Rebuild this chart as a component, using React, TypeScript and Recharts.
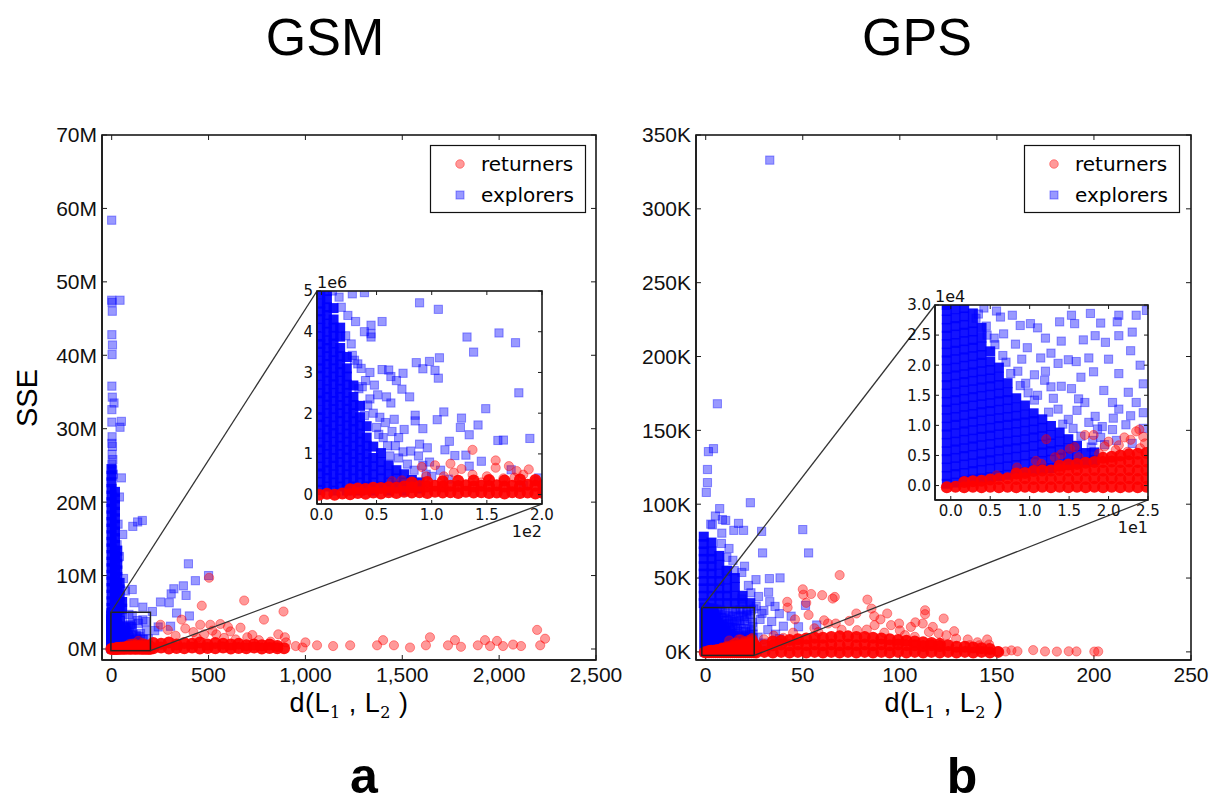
import React from 'react';
import { ScatterChart, Scatter, XAxis, YAxis } from 'recharts';

type Pt = [number, number];
type Col = [number, number[]];

// ================= Panel a: GSM (x = d(L1,L2), y = SSE in millions) =================
const gsmXTicks = [0, 500, 1000, 1500, 2000, 2500];
const gsmYTicks = [0, 10, 20, 30, 40, 50, 60, 70];
const gsmInsetXTicks = [0, 50, 100, 150, 200];
const gsmInsetYTicks = [0, 1, 2, 3, 4, 5];
const gsmXDomain: [number, number] = [-50, 2500];
const gsmYDomain: [number, number] = [-1.5, 70];
const gsmInsetXDomain: [number, number] = [-4, 200];
const gsmInsetYDomain: [number, number] = [-0.23, 5];

// dense (overlapping) explorers, given as columns [x, [y...]]
const gsmExplorersCore: Col[] = [
  [-1, [0.12, 0.31, 0.52, 0.69, 0.9, 1.11, 1.28, 1.5, 1.72, 1.9, 2.08, 2.31, 2.49, 2.7, 2.92, 3.1, 3.29, 3.51, 3.7, 3.88, 4.1, 4.31, 4.5, 4.69, 4.92, 5.6, 6.5, 7.4, 8.3, 9.2, 10.1, 11.0, 11.9, 12.8, 13.7, 14.6, 15.5, 16.4, 17.3, 18.2, 19.1, 20.0, 20.9, 21.8, 22.7, 23.6, 24.5]],
  [5, [0.2, 0.41, 0.6, 0.79, 1.0, 1.2, 1.41, 1.6, 1.79, 2.0, 2.21, 2.4, 2.59, 2.8, 3.0, 3.21, 3.4, 3.6, 3.79, 4.0, 4.2, 4.41, 4.6, 4.8, 5.0]],
  [11, [0.1, 0.3, 0.5, 0.71, 0.9, 1.1, 1.3, 1.51, 1.7, 1.9, 2.1, 2.3, 2.5, 2.71, 2.9, 3.1, 3.3, 3.5, 3.71, 3.9, 4.1, 4.3, 4.58]],
  [17, [0.2, 0.4, 0.61, 0.8, 1.0, 1.2, 1.4, 1.6, 1.81, 2.0, 2.2, 2.4, 2.6, 2.8, 3.01, 3.2, 3.4, 3.6, 3.88, 4.1, 5.2, 6.1, 7.0, 7.9, 8.8, 9.7, 10.6, 11.5, 12.4, 13.3, 14.2, 15.1, 16.0, 16.9, 17.8, 18.7, 19.6, 20.5, 21.4]],
  [23, [0.1, 0.3, 0.5, 0.7, 0.91, 1.1, 1.3, 1.5, 1.7, 1.9, 2.11, 2.3, 2.5, 2.7, 2.9, 3.1, 3.38]],
  [29, [0.2, 0.4, 0.6, 0.8, 1.0, 1.2, 1.4, 1.61, 1.8, 2.0, 2.2, 2.4, 2.68, 5.3, 6.2, 7.1, 8.0, 8.9, 9.8, 10.7, 11.6, 12.5, 13.4]],
  [35, [0.1, 0.3, 0.5, 0.7, 0.9, 1.1, 1.3, 1.5, 1.7, 1.9, 2.18]],
  [41, [0.2, 0.4, 0.6, 0.8, 1.0, 1.2, 1.4, 1.68, 5.4, 6.3, 7.2, 8.1, 9.0]],
  [47, [0.1, 0.3, 0.5, 0.7, 0.9, 1.18]],
  [54, [0.2, 0.4, 0.6, 0.8, 1.02, 5.5, 6.4]],
  [61, [0.1, 0.3, 0.5, 0.72]],
  [68, [0.2, 0.4, 0.6]],
  [75, [0.1, 0.3, 0.5]],
  [82, [0.2, 0.36]],
  [89, [0.15, 0.3]],
];

const gsmExplorersSparse: Pt[] = [
  [0, 58.4], [0, 47.5], [2, 47.2], [43, 47.5], [3, 46], [1, 42.8], [4, 41.4], [2, 40.1], [1, 35.8], [3, 34.3], [12, 33.5], [1, 32.6],
  [1, 30.9], [50, 31], [43, 30.2], [2, 28.9], [1, 28], [4, 27.6], [2, 26.5], [6, 25.8], [1, 25.2], [5, 24.4], [8, 23.8], [50, 23.3],
  [40, 20.7], [33, 17], [109, 16.7], [134, 17.3], [158, 17.5], [57, 15.6], [28, 14.2], [40, 12.6], [61, 9.6], [71, 7.9], [106, 8.1],
  [115, 6.3], [161, 5.7], [210, 5.1], [252, 6.4], [297, 6.3], [307, 7.5], [321, 8.2], [370, 8.6], [384, 7.3], [396, 11.6], [432, 9.3],
  [500, 10], [335, 4.9], [401, 4.5], [304, 3.1], [240, 3.0], [222, 2.5],
  [89, 4.71], [106, 4.55], [28, 4.93], [39, 4.96], [31, 4.25], [45, 4.16], [55, 4.25], [39, 4.0], [45, 3.95], [45, 3.87], [161, 3.97],
  [132, 3.87], [176, 3.73], [138, 3.5], [28, 3.42], [33, 3.21], [44, 3.0], [55, 3.07], [61, 3.06], [63, 2.9], [74, 2.98], [86, 3.24],
  [92, 3.09], [98, 3.27], [103, 3.05], [107, 3.36], [106, 2.86], [37, 2.65], [48, 2.69], [51, 2.45], [73, 2.59], [44, 2.35], [63, 2.25],
  [179, 2.5], [149, 2.11], [111, 2.03], [105, 1.84], [85, 1.95], [85, 1.81], [92, 1.62], [39, 1.94], [50, 1.65], [52, 1.48], [58, 1.77],
  [64, 1.55], [127, 1.88], [126, 1.65], [142, 1.71], [134, 1.47], [116, 1.31], [160, 1.33], [165, 1.34], [189, 1.38], [89, 1.24],
  [67, 1.2], [81, 1.07], [88, 0.95], [121, 0.96], [131, 0.97], [145, 0.82], [134, 0.7], [172, 0.61], [183, 0.23], [197, 0.41],
  [18, 4.6], [24, 4.4], [22, 3.9], [27, 3.7], [30, 3.3], [36, 3.1], [40, 2.8], [34, 2.6], [42, 2.2], [47, 2.0], [53, 1.9], [56, 1.4],
  [60, 1.2], [70, 0.9], [74, 1.05], [62, 0.95], [78, 0.75], [84, 0.6], [95, 0.5], [92, 0.72], [100, 0.45], [108, 0.6], [115, 0.38],
  [98, 0.8], [112, 1.1], [96, 1.15], [70, 1.4], [75, 1.6], [66, 1.85], [59, 2.4], [68, 2.8], [80, 2.4], [10, 5.0], [16, 4.85],
];

const gsmReturnersCore: Col[] = [
  [-2, [0.0]], [5, [0.02]], [12, [0.0]], [19, [0.03]], [26, [0.01, 0.13]], [33, [0.04, 0.15]], [40, [0.02, 0.14]], [47, [0.05, 0.17]],
  [54, [0.03, 0.16]], [61, [0.06, 0.18]], [68, [0.04, 0.17]], [75, [0.07, 0.2]], [82, [0.05, 0.18, 0.3]], [89, [0.06, 0.21]],
  [96, [0.04, 0.2, 0.31]], [103, [0.07, 0.22]], [110, [0.05, 0.2, 0.33]], [117, [0.06, 0.22]], [124, [0.04, 0.21, 0.34]],
  [131, [0.07, 0.23]], [138, [0.05, 0.2, 0.35]], [145, [0.06, 0.22]], [152, [0.04, 0.21, 0.36]], [159, [0.05, 0.23]],
  [166, [0.03, 0.2, 0.35]], [173, [0.06, 0.22]], [180, [0.04, 0.21, 0.37]], [187, [0.05, 0.24]], [194, [0.03, 0.22, 0.36]], [201, [0.04, 0.23]],
  [215, [0.1, 0.8]], [255, [0.2, 0.7]], [295, [0.05, 0.9]], [335, [0.15, 0.6]], [375, [0.1, 0.8]], [415, [0.2, 0.7]], [455, [0.05, 0.9]],
  [495, [0.15, 0.6]], [535, [0.1, 0.8]], [575, [0.2, 0.7]], [615, [0.05, 0.6]], [655, [0.15, 0.7]], [695, [0.1, 0.5]], [735, [0.2, 0.6]],
  [775, [0.05, 0.5]], [815, [0.15, 0.6]], [855, [0.1, 0.4]], [890, [0.1]],
];

const gsmReturnersSparse: Pt[] = [
  [137, 1.1], [158, 0.84], [158, 0.66], [117, 0.76], [91, 0.68], [103, 0.72], [127, 0.63], [137, 0.49], [170, 0.7], [177, 0.58],
  [183, 0.49], [111, 0.45], [120, 0.54], [194, 0.33], [73, 0.35], [64, 0.33], [150, 0.45], [165, 0.4], [188, 0.62], [95, 0.45],
  [145, 0.3], [175, 0.42],
  [503, 9.7], [465, 5.9], [684, 6.6], [887, 5.1], [786, 4.0], [457, 3.3], [509, 3.3], [561, 3.4], [252, 3.3], [361, 4.0], [613, 2.4],
  [665, 2.9], [726, 1.9], [894, 1.6], [477, 2.0], [422, 2.3], [330, 1.8], [290, 2.6], [380, 2.8], [540, 2.0], [580, 1.5], [640, 1.3],
  [700, 1.6], [760, 1.2], [820, 1.0], [860, 2.0], [900, 0.9], [600, 3.0], [520, 2.5], [440, 1.5],
  [950, 0.4], [985, 0.2], [1000, 0.9], [1060, 0.5], [1143, 0.4], [1231, 0.5], [1370, 0.5], [1401, 1.2], [1457, 0.5], [1540, 0.2],
  [1622, 0.5], [1643, 1.6], [1736, 0.5], [1772, 1.2], [1803, 0.3], [1890, 0.5], [1927, 1.2], [1953, 0.4], [1989, 1.1], [2020, 0.4],
  [2072, 0.6], [2113, 0.4], [2196, 2.6], [2212, 0.5], [2237, 1.4],
];

// ================= Panel b: GPS (x = d(L1,L2), y = SSE in thousands) =================
const gpsXTicks = [0, 50, 100, 150, 200, 250];
const gpsYTicks = [0, 50, 100, 150, 200, 250, 300, 350];
const gpsInsetXTicks = [0, 5, 10, 15, 20, 25];
const gpsInsetYTicks = [0, 5, 10, 15, 20, 25, 30];
const gpsXDomain: [number, number] = [-5, 250];
const gpsYDomain: [number, number] = [-5.5, 350];
const gpsInsetXDomain: [number, number] = [-2, 25];
const gpsInsetYDomain: [number, number] = [-2.4, 30];

const gpsExplorersCore: Col[] = [
  [-0.5, [0.3, 1.6, 3.0, 4.4, 5.7, 7.1, 8.5, 9.8, 11.2, 12.6, 13.9, 15.3, 16.7, 18.0, 19.4, 20.8, 22.1, 23.5, 24.9, 26.2, 27.6, 29.0, 30.0]],
  [0.6, [0.5, 1.9, 3.2, 4.6, 6.0, 7.3, 8.7, 10.1, 11.4, 12.8, 14.2, 15.5, 16.9, 18.3, 19.6, 21.0, 22.4, 23.7, 25.1, 26.5, 27.8, 29.3]],
  [1.7, [0.8, 2.1, 3.5, 4.9, 6.2, 7.6, 9.0, 10.3, 11.7, 13.1, 14.4, 15.8, 17.2, 18.5, 19.9, 21.3, 22.6, 24.0, 25.4, 26.7, 28.1, 29.5]],
  [2.8, [1.0, 2.4, 3.7, 5.1, 6.5, 7.8, 9.2, 10.6, 11.9, 13.3, 14.7, 16.0, 17.4, 18.8, 20.1, 21.5, 22.9, 24.2, 25.6, 27.0, 28.6]],
  [3.9, [1.2, 2.6, 4.0, 5.3, 6.7, 8.1, 9.4, 10.8, 12.2, 13.5, 14.9, 16.3, 17.6, 19.0, 20.4, 21.7, 23.1, 24.6, 26.2]],
  [5.0, [1.4, 2.8, 4.2, 5.5, 6.9, 8.3, 9.6, 11.0, 12.4, 13.7, 15.1, 16.5, 17.8, 19.2, 20.6, 22.3]],
  [6.1, [1.6, 3.0, 4.4, 5.8, 7.1, 8.5, 9.9, 11.2, 12.6, 14.0, 15.3, 16.7, 18.1, 19.6]],
  [7.2, [1.8, 3.2, 4.6, 6.0, 7.3, 8.7, 10.1, 11.4, 12.8, 14.2, 15.5, 17.0]],
  [8.3, [2.0, 3.4, 4.8, 6.2, 7.5, 8.9, 10.3, 11.6, 13.0, 14.5]],
  [9.4, [2.2, 3.6, 5.0, 6.4, 7.7, 9.1, 10.5, 11.8, 13.3]],
  [10.5, [2.5, 3.9, 5.2, 6.6, 8.0, 9.3, 10.7, 12.0]],
  [11.6, [2.7, 4.1, 5.5, 6.8, 8.2, 9.6, 11.0]],
  [12.7, [2.9, 4.3, 5.7, 7.0, 8.4, 9.9]],
  [13.8, [3.2, 4.6, 5.9, 7.3, 8.8]],
  [14.9, [3.4, 4.8, 6.2, 7.7]],
  [16.0, [3.7, 5.1, 6.6]],
  [17.1, [3.9, 5.4]],
  [18.2, [4.2, 5.5]],
  [-1, [33, 38, 43, 48, 53, 58, 63, 68, 73, 78]],
  [3, [33, 38, 43, 48, 53, 58, 63, 68, 74]],
  [7, [33, 38, 43, 48, 53, 59, 65]],
  [11, [33, 38, 43, 49, 55]],
  [15, [33, 38, 44, 50]],
  [19, [33, 38]],
  [23, [33]],
];

const gpsExplorersSparse: Pt[] = [
  [33, 333], [6, 168], [1.4, 135.6], [4, 137.6], [0.9, 123.5], [0.9, 114.6], [0.3, 108], [7.2, 97], [23, 101], [8.6, 89.6], [10.3, 89],
  [2.6, 86.5], [3.4, 86], [8.3, 80.4], [14.5, 82.3], [16.9, 87], [19.5, 82.3], [28.8, 81.6], [29.3, 67], [50, 82.8], [53, 67], [8.1, 73.4],
  [10.9, 64], [10.3, 55], [14.7, 55], [18.6, 53.8], [25.9, 48.9], [32.8, 49.6], [38.3, 50.1], [23.3, 40], [27.2, 37.5], [32.4, 40.4],
  [18.6, 35.8], [35.7, 30.8], [37.9, 25.9], [44, 24.2], [51.4, 31.5], [40, 17.4], [47.8, 17], [57.2, 18.2], [34, 20.6], [30, 28], [28, 22],
  [32, 15], [36, 12], [27, 10], [30, 6], [38, 9], [26, 31], [29, 26], [33, 34], [12, 70], [5, 92], [14, 62], [22, 45], [20, 58],
  [5.8, 29], [6.3, 28], [7.8, 28.3], [8.8, 26.6], [10.1, 26.9], [11, 26.2], [13.8, 27.2], [15.3, 28.3], [15.7, 26.9], [17.7, 28.6],
  [21.1, 27.2], [21.3, 28.3], [23.5, 28.3], [24.8, 29.1], [18.3, 24.9], [19.6, 23.8], [21.3, 24.9], [22.8, 22.4], [6.7, 25.2], [8.2, 23.5],
  [9.7, 22.9], [11.4, 21.2], [12.7, 22], [13.6, 20.3], [14.9, 20.9], [15.9, 20.6], [17.5, 21.2], [18.1, 18.9], [19.4, 15.8], [21.3, 18.6],
  [24.4, 16.9], [10.6, 18.4], [11.9, 17.5], [12.7, 16.4], [15.3, 16.1], [16.2, 14.4], [17, 13.8], [20.5, 13.8], [21.3, 12.7], [23.5, 13.8],
  [24.4, 12.1], [13.6, 12.7], [14.9, 11], [18.3, 11.5], [19.2, 9.8], [20.5, 9.3], [22.2, 10.1], [24.4, 9.5], [9.5, 17], [11, 15], [13, 14.5],
  [14, 16.5], [16, 12.5], [17.5, 10.5], [15.5, 9.5], [19, 8], [21, 7.5], [23, 7], [18, 7.5], [7, 20.5], [8.5, 19], [4.5, 26.5], [5.5, 24.5],
  [3.5, 28.5], [4.2, 29.5], [12, 19], [16.5, 18], [20, 21], [22.5, 15.5], [24, 20], [23, 25.5], [19, 27], [14, 24], [9, 21], [12, 24.5], [16.8, 24.2],
  [19.5, 6.8], [17.8, 6.4], [16.5, 8.2], [14.2, 10.2], [12.4, 12.2], [10.6, 14.2], [9.8, 15.4], [8.8, 16.6], [7.6, 18.6], [6.6, 21.6],
  [5.6, 23.4], [4.6, 25.0], [3.2, 27.8], [20.6, 11.2], [22.8, 11.6], [18.6, 9.4],
];

const gpsReturnersCore: Col[] = [
  [-0.5, [-0.3]], [0.6, [-0.2]], [1.7, [-0.3, 0.6]], [2.8, [-0.2, 0.7]], [3.9, [-0.3, 0.8]], [5.0, [-0.2, 1.0]], [6.1, [-0.3, 1.1]],
  [7.2, [-0.2, 1.2]], [8.3, [-0.3, 1.1, 2.0]], [9.4, [-0.2, 1.2, 2.1]], [10.5, [-0.3, 1.1, 2.4]], [11.6, [-0.2, 1.2, 2.5]],
  [12.7, [-0.3, 1.1, 2.5]], [13.8, [-0.2, 1.2, 2.6, 3.3]], [14.9, [-0.3, 1.1, 2.5, 3.5]], [16.0, [-0.2, 1.2, 2.6, 3.6]],
  [17.1, [-0.3, 1.1, 2.5, 3.8]], [18.2, [-0.2, 1.2, 2.6, 3.9]], [19.3, [-0.3, 1.1, 2.5, 3.9, 4.6]], [20.4, [-0.2, 1.2, 2.6, 4.0, 4.8]],
  [21.5, [-0.3, 1.1, 2.5, 3.9, 5.0]], [22.6, [-0.2, 1.2, 2.6, 4.0, 5.2]], [23.7, [-0.3, 1.1, 2.5, 3.9, 5.3]], [24.8, [-0.2, 1.2, 2.6, 4.0, 5.4]],
  [26, [-0.5, 3.5]], [30.3, [0, 4.5]], [34.6, [-0.5, 4.5, 7]], [38.9, [0, 5, 7.5]], [43.2, [-0.5, 4.5, 8]], [47.5, [0, 5, 8.5]],
  [51.8, [-0.5, 4.5, 9]], [56.1, [0, 5, 9.5]], [60.4, [-0.5, 4.5, 9.5]], [64.7, [0, 5, 10]], [69, [-0.5, 4.5, 10.5]], [73.3, [0, 5, 10.5]],
  [77.6, [-0.5, 4.5, 10]], [81.9, [0, 5, 10]], [86.2, [-0.5, 4.5, 9.5]], [90.5, [0, 5, 9]], [94.8, [-0.5, 4.5, 8.5]], [99.1, [0, 5, 8]],
  [103.4, [-0.5, 4.5, 7.5]], [107.7, [0, 4.5, 7]], [112, [-0.5, 4, 6.5]], [116.3, [0, 4.5, 6]], [120.6, [-0.5, 4, 5.5]], [124.9, [0, 4.5]],
  [129.2, [-0.5, 3.5]], [133.5, [0, 3.5]], [137.8, [-0.5, 3]], [142.1, [0, 2.5]], [146.4, [-0.5, 2]], [150.7, [0]],
];

const gpsReturnersSparse: Pt[] = [
  [12.1, 7.7], [13.2, 4.7], [15.1, 6.1], [15.7, 6.4], [17, 8.4], [18.1, 8.4], [20, 7.3], [20.9, 5.9], [21.3, 6.7], [22.8, 7.6], [23.5, 9],
  [23.9, 9.3], [24.4, 8.1], [24.6, 7], [10.8, 4.1], [8.4, 3], [5.8, 1.7], [16.2, 4.7], [18.8, 5.3], [22.4, 5.6], [19.5, 6.5], [24, 6.2],
  [14, 5.2], [11.5, 3.6],
  [69, 52], [50, 42.4], [50.3, 38.7], [54.3, 39.2], [60, 38.4], [66.5, 37.2], [65.4, 36.1], [42, 33.9], [51.8, 33.2], [83.3, 35.4],
  [85.4, 29.3], [86.8, 24.2], [93.5, 26], [77.6, 26], [113, 28.2], [113, 25.5], [122.6, 22.6], [61, 21.4], [63, 19.2], [67, 19.2],
  [78, 14.7], [83, 15.1], [87, 18.1], [95.5, 18.1], [99.6, 19.2], [105.7, 16.9], [111.8, 19.2], [115, 13.5], [117, 16.9], [102.6, 11.3],
  [107.7, 10.2], [124, 11.3], [129, 9], [135, 8.4], [145, 8.4], [136, 4.5], [141, 4.5], [146, 5], [42.2, 30], [53, 25], [46, 22],
  [56, 16], [70, 15], [74, 21], [92, 13], [120, 12.5], [128, 14], [140, 6.5], [35, 11], [40, 9.5], [30, 8.5], [22, 8], [45, 13],
  [58, 13.5], [100, 14.5], [108, 20], [90, 22],
  [150.4, 0.5], [154.5, 0.3], [157.5, 1], [160.6, 0.4], [168.7, 1.2], [174.8, 0.3], [180.9, 0.2], [187, 0.4], [191, 0.3], [200.2, 0.2], [202.2, 0.3],
];

// ================= helpers =================
const fromCols = (cols: Col[]) => cols.flatMap(([x, ys]) => ys.map((y) => ({ x, y })));
const fromPts = (pts: Pt[]) => pts.map(([x, y]) => ({ x, y }));

const RED = '#ff0000';
const BLUE = '#0000ff';

const redCore = (p: any) => <circle cx={p.cx} cy={p.cy} r={6} fill={RED} fillOpacity={0.92} />;
const redSparse = (p: any) => (
  <circle cx={p.cx} cy={p.cy} r={4.6} fill={RED} fillOpacity={0.4} stroke={RED} strokeOpacity={0.4} strokeWidth={1} />
);
const blueCore = (p: any) => <rect x={p.cx - 5} y={p.cy - 5} width={10} height={10} fill={BLUE} fillOpacity={0.92} />;
const blueSparse = (p: any) => (
  <rect x={p.cx - 4.1} y={p.cy - 4.1} width={8.2} height={8.2} fill={BLUE} fillOpacity={0.4} stroke={BLUE} strokeOpacity={0.4} strokeWidth={1} />
);

type Series = { name: string; data: { x: number; y: number }[]; shape: any };

const gsmSeries: Series[] = [
  { name: 'explorers', data: fromCols(gsmExplorersCore), shape: blueCore },
  { name: 'explorers', data: fromPts(gsmExplorersSparse), shape: blueSparse },
  { name: 'returners', data: fromCols(gsmReturnersCore), shape: redCore },
  { name: 'returners', data: fromPts(gsmReturnersSparse), shape: redSparse },
];
const gpsSeries: Series[] = [
  { name: 'explorers', data: fromCols(gpsExplorersCore), shape: blueCore },
  { name: 'explorers', data: fromPts(gpsExplorersSparse), shape: blueSparse },
  { name: 'returners', data: fromCols(gpsReturnersCore), shape: redCore },
  { name: 'returners', data: fromPts(gpsReturnersSparse), shape: redSparse },
];

// ================= layout =================
type Box = { left: number; top: number; w: number; h: number };
const A: Box = { left: 102, top: 135, w: 494, h: 525 };
const AI: Box = { left: 317, top: 291, w: 225, h: 213 };
const B: Box = { left: 696, top: 135, w: 495, h: 525 };
const BI: Box = { left: 935, top: 305, w: 213, h: 195 };

const ARIAL = '"Liberation Sans", Arial, Helvetica, sans-serif';
const DEJAVU = '"DejaVu Sans", sans-serif';
const FRAME = '#1a1a1a';

type PlotProps = {
  box: Box;
  xd: [number, number]; yd: [number, number];
  xt: number[]; yt: number[];
  xf: (v: number) => string; yf: (v: number) => string;
  fs: number; ff: string; ts: number; xtm: number; ytm: number;
  series: Series[]; bg?: boolean;
};

function Plot(p: PlotProps) {
  const YW = 90, XH = 40, MT = 14, MR = 30;
  const axisLine = { stroke: FRAME, strokeWidth: 1.6 };
  const tickLine = { stroke: FRAME, strokeWidth: 1 };
  const tickStyle = { fill: '#111', fontSize: p.fs, fontFamily: p.ff };
  const { left, top, w, h } = p.box;
  return (
    <>
      {p.bg && <div style={{ position: 'absolute', left, top, width: w, height: h, background: '#fff' }} />}
      <div style={{ position: 'absolute', left: left - YW, top: top - MT }}>
        <ScatterChart width={YW + w + MR} height={MT + h + XH} margin={{ top: MT, right: MR, bottom: 0, left: 0 }}>
          <XAxis xAxisId="b" type="number" dataKey="x" domain={p.xd} ticks={p.xt} allowDataOverflow interval={0}
            height={XH} tickSize={-p.ts} tickMargin={p.xtm} tickFormatter={p.xf} tick={tickStyle}
            axisLine={axisLine} tickLine={tickLine} />
          <YAxis yAxisId="l" type="number" dataKey="y" domain={p.yd} ticks={p.yt} allowDataOverflow interval={0}
            width={YW} tickSize={-p.ts} tickMargin={p.ytm} tickFormatter={p.yf} tick={tickStyle}
            axisLine={axisLine} tickLine={tickLine} />
          {p.series.map((s, i) => (
            <Scatter key={i} name={s.name} xAxisId="b" yAxisId="l" data={s.data} shape={s.shape} isAnimationActive={false} />
          ))}
        </ScatterChart>
      </div>
    </>
  );
}

const sx = (v: number, d: [number, number], b: Box) => b.left + ((v - d[0]) / (d[1] - d[0])) * b.w;
const sy = (v: number, d: [number, number], b: Box) => b.top + b.h - ((v - d[0]) / (d[1] - d[0])) * b.h;

// box outline plus inward ticks on the top and right edges (matplotlib style frame)
function Frame({ box, xd, yd, xt, yt, ts }: { box: Box; xd: [number, number]; yd: [number, number]; xt: number[]; yt: number[]; ts: number }) {
  const r = box.left + box.w;
  return (
    <g>
      <rect x={box.left} y={box.top} width={box.w} height={box.h} fill="none" stroke={FRAME} strokeWidth={1.6} />
      {xt.map((t) => {
        const x = sx(t, xd, box);
        return <line key={'x' + t} x1={x} x2={x} y1={box.top} y2={box.top + ts} stroke={FRAME} strokeWidth={1} />;
      })}
      {yt.map((t) => {
        const y = sy(t, yd, box);
        return <line key={'y' + t} x1={r} x2={r - ts} y1={y} y2={y} stroke={FRAME} strokeWidth={1} />;
      })}
    </g>
  );
}

function ZoomMarks({ main, inset, xd, yd, ixd, iyd }: { main: Box; inset: Box; xd: [number, number]; yd: [number, number]; ixd: [number, number]; iyd: [number, number] }) {
  const x0 = sx(ixd[0], xd, main), x1 = sx(ixd[1], xd, main);
  const y1 = sy(iyd[1], yd, main), y0 = sy(iyd[0], yd, main);
  return (
    <g>
      <rect x={x0} y={y1} width={x1 - x0} height={y0 - y1} fill="none" stroke="#222" strokeWidth={1.5} />
      <line x1={x0} y1={y1} x2={inset.left} y2={inset.top} stroke="#333" strokeWidth={1.3} />
      <line x1={x1} y1={y0} x2={inset.left + inset.w} y2={inset.top + inset.h} stroke="#333" strokeWidth={1.3} />
    </g>
  );
}

function LegendBox({ x, y }: { x: number; y: number }) {
  return (
    <g>
      <rect x={x + 0.5} y={y + 0.5} width={155} height={67} fill="#fff" stroke="#111" strokeWidth={1.2} />
      <circle cx={x + 30} cy={y + 19} r={4.3} fill={RED} fillOpacity={0.4} stroke={RED} strokeOpacity={0.4} />
      <text x={x + 51} y={y + 26} fontFamily={DEJAVU} fontSize={20} fill="#000">returners</text>
      <rect x={x + 26} y={y + 46} width={8} height={8} fill={BLUE} fillOpacity={0.4} stroke={BLUE} strokeOpacity={0.4} />
      <text x={x + 51} y={y + 57} fontFamily={DEJAVU} fontSize={20} fill="#000">explorers</text>
    </g>
  );
}

function XLabel({ cx, y }: { cx: number; y: number }) {
  return (
    <text x={cx} y={y} textAnchor="middle" fontFamily={ARIAL} fontSize={27} fill="#000" letterSpacing={0.5}>
      d(L<tspan fontFamily='"DejaVu Serif", serif' fontSize={16} dy={6}>1</tspan>
      <tspan dy={-6}> , L</tspan>
      <tspan fontFamily='"DejaVu Serif", serif' fontSize={16} dy={6}>2</tspan>
      <tspan dy={-6}> )</tspan>
    </text>
  );
}

const fmtComma = (v: number) => v.toLocaleString('en-US');

export default function App() {
  return (
    <div style={{ position: 'absolute', left: 0, top: 0, width: 1219, height: 805, background: '#fff', overflow: 'hidden' }}>
      <Plot box={A} xd={gsmXDomain} yd={gsmYDomain} xt={gsmXTicks} yt={gsmYTicks} xf={fmtComma} yf={(v) => `${v}M`}
        fs={21} ff={ARIAL} ts={5} xtm={12} ytm={10} series={gsmSeries} />
      <Plot box={B} xd={gpsXDomain} yd={gpsYDomain} xt={gpsXTicks} yt={gpsYTicks} xf={fmtComma} yf={(v) => `${v}K`}
        fs={21} ff={ARIAL} ts={5} xtm={12} ytm={10} series={gpsSeries} />
      <svg width={1219} height={805} style={{ position: 'absolute', left: 0, top: 0, pointerEvents: 'none' }}>
        <Frame box={A} xd={gsmXDomain} yd={gsmYDomain} xt={gsmXTicks} yt={gsmYTicks} ts={5} />
        <Frame box={B} xd={gpsXDomain} yd={gpsYDomain} xt={gpsXTicks} yt={gpsYTicks} ts={5} />
        <ZoomMarks main={A} inset={AI} xd={gsmXDomain} yd={gsmYDomain} ixd={gsmInsetXDomain} iyd={gsmInsetYDomain} />
        <ZoomMarks main={B} inset={BI} xd={gpsXDomain} yd={gpsYDomain} ixd={gpsInsetXDomain} iyd={gpsInsetYDomain} />
      </svg>
      <Plot box={AI} xd={gsmInsetXDomain} yd={gsmInsetYDomain} xt={gsmInsetXTicks} yt={gsmInsetYTicks}
        xf={(v) => (v / 100).toFixed(1)} yf={(v) => String(v)} fs={15} ff={DEJAVU} ts={4} xtm={9} ytm={8} series={gsmSeries} bg />
      <Plot box={BI} xd={gpsInsetXDomain} yd={gpsInsetYDomain} xt={gpsInsetXTicks} yt={gpsInsetYTicks}
        xf={(v) => (v / 10).toFixed(1)} yf={(v) => (v / 10).toFixed(1)} fs={15} ff={DEJAVU} ts={4} xtm={9} ytm={8} series={gpsSeries} bg />
      <svg width={1219} height={805} style={{ position: 'absolute', left: 0, top: 0, pointerEvents: 'none' }}>
        <Frame box={AI} xd={gsmInsetXDomain} yd={gsmInsetYDomain} xt={gsmInsetXTicks} yt={gsmInsetYTicks} ts={4} />
        <Frame box={BI} xd={gpsInsetXDomain} yd={gpsInsetYDomain} xt={gpsInsetXTicks} yt={gpsInsetYTicks} ts={4} />
        <LegendBox x={430} y={145} />
        <LegendBox x={1024} y={145} />
        <text x={325} y={55} textAnchor="middle" fontFamily={ARIAL} fontSize={52} fill="#000">GSM</text>
        <text x={917} y={55} textAnchor="middle" fontFamily={ARIAL} fontSize={52} fill="#000">GPS</text>
        <text x={364} y={793} textAnchor="middle" fontFamily={ARIAL} fontSize={50} fontWeight="bold" fill="#000">a</text>
        <text x={962} y={793} textAnchor="middle" fontFamily={ARIAL} fontSize={50} fontWeight="bold" fill="#000">b</text>
        <text transform="translate(37,398) rotate(-90)" textAnchor="middle" fontFamily={ARIAL} fontSize={29} fill="#000">SSE</text>
        <XLabel cx={349} y={712} />
        <XLabel cx={944} y={712} />
        <text x={AI.left} y={288} fontFamily={DEJAVU} fontSize={16} fill="#111">1e6</text>
        <text x={AI.left + AI.w} y={537} textAnchor="end" fontFamily={DEJAVU} fontSize={16} fill="#111">1e2</text>
        <text x={BI.left} y={302} fontFamily={DEJAVU} fontSize={16} fill="#111">1e4</text>
        <text x={BI.left + BI.w} y={533} textAnchor="end" fontFamily={DEJAVU} fontSize={16} fill="#111">1e1</text>
      </svg>
    </div>
  );
}
